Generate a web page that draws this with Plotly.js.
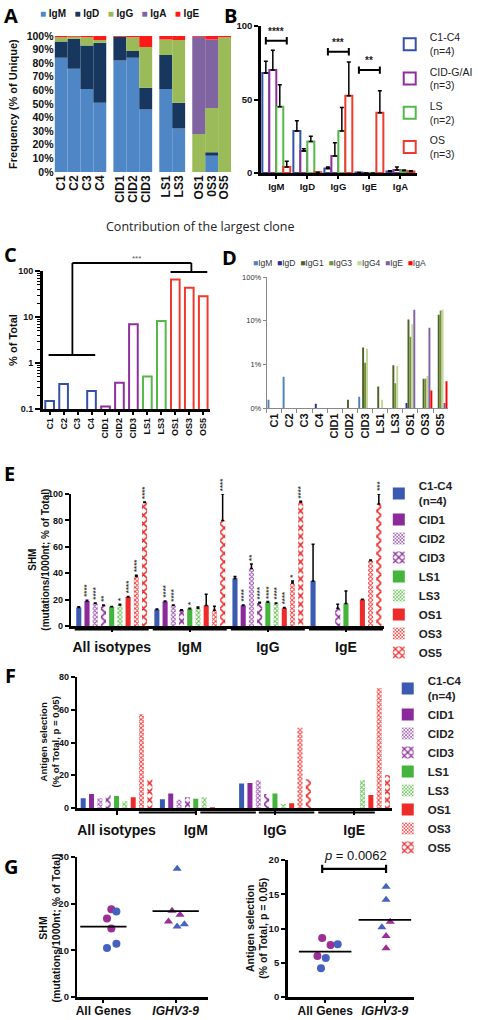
<!DOCTYPE html>
<html><head><meta charset="utf-8">
<script src="https://cdn.plot.ly/plotly-3.0.1.min.js"></script>
<style>html,body{margin:0;padding:0;background:#fff;}#chart{width:478px;height:1020px;}</style>
</head><body><div id="chart"></div>
<script>
// ================= DATA =================
// Panel A – isotype frequency (% of unique)
const samplesA = ['C1','C2','C3','C4','CID1','CID2','CID3','LS1','LS3','OS1','0S3','OS5'];
const sampleGroupSizes = [4,3,2,3];
const isotypesA = ['IgM','IgD','IgG','IgA','IgE'];
const A_IgM = [84, 76, 61, 51, 82, 84, 46, 61, 32, 0, 12, 0];
const A_IgD = [12, 22, 32, 44, 17.5, 5, 16, 25, 19, 0, 2.5, 0];
const A_IgG = [3, 1.5, 6, 2, 0, 10, 30, 11.5, 46, 28, 32.5, 99];
const A_IgA = [0, 0, 0, 0, 0, 0, 0, 0, 0, 71.5, 50.5, 0];
const A_IgE = [1, 0.5, 1, 3, 0.5, 1, 8, 2.5, 3, 0.5, 2.5, 1];

// Panel B – mean isotype frequency by cohort
const B_isotypes = ['IgM','IgD','IgG','IgE','IgA'];
const B_groups = ['C1-C4<br>(n=4)','CID-G/AI<br>(n=3)','LS<br>(n=2)','OS<br>(n=3)'];
const B_C   = [68, 28.5, 3, 0.3, 1];
const B_CID = [70, 15, 11.5, 0, 2];
const B_LS  = [45, 21.5, 28.5, 0, 1.5];
const B_OS  = [4, 0.5, 52.5, 41, 1];
const B_C_err   = [8, 7, 1, 0, 0.5];
const B_CID_err = [13.5, 1.5, 9, 0, 2];
const B_LS_err  = [15, 3.5, 16, 0, 0.5];
const B_OS_err  = [4, 0, 23, 15, 0.5];
const B_sig = [{iso:'IgM', y:90, text:'****'}, {iso:'IgG', y:82.5, text:'***'}, {iso:'IgE', y:70, text:'**'}];

// Panel C – contribution of largest clone (% of total)
const samples = ['C1','C2','C3','C4','CID1','CID2','CID3','LS1','LS3','OS1','OS3','OS5'];
const C_vals = [0.15, 0.35, null, 0.245, 0.114, 0.37, 6.95, 0.51, 8.2, 65, 43, 28.4];

// Panel D – largest clone by isotype
const D_isotypes = ['IgM','IgD','IgG1','IgG3','IgG4','IgE','IgA'];
const D_IgM  = [0.155, 0.52, null, null, null, null, 0.18, null, null, null, null, null];
const D_IgD  = [null, null, null, 0.125, null, null, null, null, null, 0.13, null, null];
const D_IgG1 = [null, null, null, null, null, 0.155, 2.43, 0.31, 0.95, 10.7, 0.47, 13.7];
const D_IgG3 = [null, null, null, null, null, null, 1.09, null, 0.37, 4.3, 0.47, 17];
const D_IgG4 = [null, null, null, null, null, null, 2.27, 0.155, 0.92, 8.3, 0.54, 17.8];
const D_IgE  = [null, null, null, null, null, null, null, null, null, 17.8, 6.9, 0.13];
const D_IgA  = [null, null, null, null, null, null, null, null, null, null, 0.25, 0.41];

// Panels E/F – groups and series
const EF_groups = ['All isotypes','IgM','IgG','IgE'];
const EF_series = ['C1-C4<br>(n=4)','CID1','CID2','CID3','LS1','LS3','OS1','OS3','OS5'];
// E – SHM (mutations/1000nt)
const E_C   = [14, 12.5, 36, 34];     const E_C_err   = [0.5, 0.3, 1.5, 28];
const E_CID1= [19, 18.5, 15.5, null]; const E_CID1_err= [0.5, 0.5, 0.5, 0];
const E_CID2= [17, 15.5, 43.5, null]; const E_CID2_err= [0.5, 0.5, 3.5, 0];
const E_CID3= [15.5, 12, 17.5, 13.5]; const E_CID3_err= [0.5, 0.3, 0.5, 3];
const E_LS1 = [14.5, 13, 18, 17];     const E_LS1_err = [0.3, 0.5, 0.5, 9.5];
const E_LS3 = [16, 13.5, 17, null];   const E_LS3_err = [0.5, 0.8, 0.5, 0];
const E_OS1 = [22, 15.5, 13.5, 20];   const E_OS1_err = [0.3, 8.5, 0.5, 0.3];
const E_OS3 = [37.5, 12, 32.5, 49.5]; const E_OS3_err = [1, 3, 1.5, 0.5];
const E_OS5 = [93.5, 80, 94, 92.5];   const E_OS5_err = [0.5, 20, 0.5, 7.5];
const E_stars = [
  ['', '', '', ''],
  ['****', '****', '****', ''],
  ['****', '****', '**', ''],
  ['**', '', '****', ''],
  ['', '*', '****', ''],
  ['*', '', '****', ''],
  ['****', '', '****', ''],
  ['****', '', '*', ''],
  ['****', '****', '****', '***']
];
// F – antigen selection (% of total, p = 0.05)
const F_C   = [6, 5.3, 15, null];
const F_CID1= [8.6, 8.8, 15.3, null];
const F_CID2= [6, 5.1, 17, null];
const F_CID3= [7.8, 6.5, 8.6, null];
const F_LS1 = [7.4, 5.7, 8.8, null];
const F_LS3 = [4.1, 6.5, 2.5, 17];
const F_OS1 = [6.5, 0.5, 2.9, 8];
const F_OS3 = [57.3, null, 49, 73.2];
const F_OS5 = [17.6, null, 17.6, 20];

// Panel G
const G_cats = ['All Genes','<i>IGHV3-9</i>'];
const G_SHM_all   = [18.8, 18.3, 16.8, 14.7, 11.4, 10.5];
const G_SHM_all_c = ['P','B','P','P','B','B'];
const G_SHM_ighv  = [27.5, 18.5, 17.6, 16.2, 15.6, 15.1];
const G_SHM_ighv_c= ['B','P','P','P','B','B'];
const G_AS_all    = [8.6, 7.6, 7.7, 6.0, 5.7, 4.2];
const G_AS_all_c  = ['P','P','B','P','B','B'];
const G_AS_ighv   = [16.1, 14.2, 10.2, 11.0, 8.9, 7.1];
const G_AS_ighv_c = ['B','B','B','P','P','P'];
const G_pText = '<i>p</i> = 0.0062';

// ================= STYLE / LAYOUT HELPERS =================
const W = 478, H = 1020;
const fx = p => p / W;
const fy = p => 1 - p / H;
const FONT = 'Liberation Sans, Arial, sans-serif';
const bold = (size, color) => ({family: FONT, size: size, weight: 'bold', color: color || '#111'});

const A_colors = {IgM:'#4f86c6', IgD:'#17375e', IgG:'#9bbb59', IgA:'#8064a2', IgE:'#ff1a1a'};
const B_colors = ['#3550a8', '#8e2f9e', '#55b848', '#f03a2e'];
const D_colors = ['#4f81bd', '#2b2f8f', '#4f6228', '#76923c', '#c3d69b', '#8064a2', '#ff0000'];
const EF_colors = ['#3b5bb2', '#8b2a9b', '#9a4fb0', '#8b2a9b', '#45b43c', '#62c050', '#ee2b2b', '#ee3a3a', '#ee2b2b'];
const EF_patterns = [null, null, {shape:'x', size:3, solidity:0.5}, {shape:'x', size:6, solidity:0.45},
                     null, {shape:'x', size:3, solidity:0.5}, null, {shape:'x', size:3, solidity:0.5}, {shape:'x', size:6, solidity:0.45}];
const G_col = {P:'#9b2f95', B:'#4562c0'};

function groupedPositions(sizes, gap) {
  const out = []; let p = 0;
  sizes.forEach(n => { for (let i = 0; i < n; i++) out.push(p++); p += gap; });
  return out;
}
function groupColors(sizes, cols) {
  const out = []; sizes.forEach((n, g) => { for (let i = 0; i < n; i++) out.push(cols[g]); }); return out;
}
function vTitle(text, xpx, ypx, font) {
  annotations.push({xref:'paper', yref:'paper', x:fx(xpx), y:fy(ypx), xanchor:'center', yanchor:'middle',
    textangle:-90, showarrow:false, text:text, font:font});
}

const traces = [];
const annotations = [];
const shapes = [];

// ================= PANEL A =================
const pA = groupedPositions(sampleGroupSizes, 0.55);
const A_data = {IgM:A_IgM, IgD:A_IgD, IgG:A_IgG, IgA:A_IgA, IgE:A_IgE};
const cum = samplesA.map(() => 0);
isotypesA.forEach(iso => {
  const vals = A_data[iso];
  traces.push({type:'bar', x:pA, y:vals, base:cum.slice(), width:1, offsetgroup:'A',
    marker:{color:A_colors[iso], line:{width:0}}, xaxis:'x', yaxis:'y', showlegend:false, hoverinfo:'skip'});
  vals.forEach((v, i) => cum[i] += v);
});
annotations.push({xref:'paper', yref:'paper', x:fx(38), y:fy(14), xanchor:'left', yanchor:'middle', showarrow:false,
  font:bold(10, '#111'),
  text: isotypesA.map(k => `<span style="color:${A_colors[k]}">■</span>\u00a0${k}`).join('\u00a0\u00a0 ')});
vTitle('Frequency (% of Unique)', 13, 104, bold(11));

// ================= PANEL B =================
const B_vals = [B_C, B_CID, B_LS, B_OS];
const B_errs = [B_C_err, B_CID_err, B_LS_err, B_OS_err];
B_groups.forEach((g, i) => {
  traces.push({type:'bar', x:B_isotypes, y:B_vals[i], name:g, xaxis:'x2', yaxis:'y2',
    marker:{color:'white', line:{color:B_colors[i], width:2}},
    error_y:{type:'data', symmetric:false, array:B_errs[i], arrayminus:B_isotypes.map(() => 0), color:'#000', thickness:1.5, width:2},
    legend:'legend', legendgroup:'b' + i, showlegend:true, hoverinfo:'skip'});
});
const bHalf = 1.5 * (1 - 0.1) / 4;
B_sig.forEach(s => {
  const c = B_isotypes.indexOf(s.iso);
  shapes.push({type:'line', xref:'x2', yref:'y2', x0:c - bHalf, x1:c + bHalf, y0:s.y, y1:s.y, line:{color:'#000', width:2}});
  shapes.push({type:'line', xref:'x2', yref:'y2', x0:c - bHalf, x1:c - bHalf, y0:s.y - 2.5, y1:s.y + 2.5, line:{color:'#000', width:2}});
  shapes.push({type:'line', xref:'x2', yref:'y2', x0:c + bHalf, x1:c + bHalf, y0:s.y - 2.5, y1:s.y + 2.5, line:{color:'#000', width:2}});
  annotations.push({xref:'x2', yref:'y2', x:c, y:s.y + 1.5, yanchor:'bottom', showarrow:false, text:s.text, font:bold(10, '#222')});
});

// ================= HEADER =================
annotations.push({xref:'paper', yref:'paper', x:fx(202), y:fy(226), xanchor:'center', yanchor:'middle', showarrow:false,
  text:'Contribution of the largest clone', font:{family:'Open Sans, sans-serif', size:12.5, color:'#222'}});

// ================= PANEL C =================
traces.push({type:'bar', x:samples, y:C_vals, width:0.62, xaxis:'x3', yaxis:'y3',
  marker:{color:'white', line:{color:groupColors(sampleGroupSizes, B_colors), width:2}}, showlegend:false, hoverinfo:'skip'});
vTitle('% of Total', 13, 340, bold(11));
[[49,355,96,355],[73,355,73,263],[73,263,193,263],[193,263,193,272],[172,272,209,272]].forEach(l => {
  shapes.push({type:'line', xref:'paper', yref:'paper', x0:fx(l[0]), y0:fy(l[1]), x1:fx(l[2]), y1:fy(l[3]), line:{color:'#000', width:1.8}});
});
annotations.push({xref:'paper', yref:'paper', x:fx(138), y:fy(258), xanchor:'center', yanchor:'middle', showarrow:false,
  text:'***', font:{family:FONT, size:8, color:'#555'}});

// ================= PANEL D =================
const D_data = [D_IgM, D_IgD, D_IgG1, D_IgG3, D_IgG4, D_IgE, D_IgA];
D_isotypes.forEach((iso, i) => {
  traces.push({type:'bar', x:samples, y:D_data[i], name:iso, xaxis:'x4', yaxis:'y4',
    marker:{color:D_colors[i], line:{width:0}}, showlegend:false, hoverinfo:'skip'});
});
annotations.push({xref:'paper', yref:'paper', x:fx(253), y:fy(263), xanchor:'left', yanchor:'middle', showarrow:false,
  font:{family:FONT, size:8.5, color:'#333'},
  text: D_isotypes.map((k, i) => `<span style="color:${D_colors[i]}">■</span>${k}`).join('\u00a0\u00a0')});

// ================= PANELS E & F =================
const stride = 9.5;
const E_vals = [E_C, E_CID1, E_CID2, E_CID3, E_LS1, E_LS3, E_OS1, E_OS3, E_OS5];
const E_errs = [E_C_err, E_CID1_err, E_CID2_err, E_CID3_err, E_LS1_err, E_LS3_err, E_OS1_err, E_OS3_err, E_OS5_err];
const F_vals = [F_C, F_CID1, F_CID2, F_CID3, F_LS1, F_LS3, F_OS1, F_OS3, F_OS5];
function efMarker(i) {
  const m = {color:EF_colors[i], line:{width:0}};
  if (EF_patterns[i]) m.pattern = Object.assign({fillmode:'replace', fgcolor:EF_colors[i], bgcolor:'white'}, EF_patterns[i]);
  return m;
}
EF_series.forEach((s, i) => {
  const xs = EF_groups.map((g, gi) => gi * stride + i);
  traces.push({type:'bar', x:xs, y:E_vals[i], width:0.62, offsetgroup:'E', name:s, xaxis:'x5', yaxis:'y5',
    marker:efMarker(i),
    error_y:{type:'data', symmetric:false, array:E_errs[i], arrayminus:xs.map(() => 0), color:'#000', thickness:1.5, width:1.5},
    legend:'legend2', showlegend:true, hoverinfo:'skip'});
  traces.push({type:'bar', x:xs, y:F_vals[i], width:0.6, offsetgroup:'F', name:s, xaxis:'x6', yaxis:'y6',
    marker:efMarker(i), legend:'legend3', showlegend:true, hoverinfo:'skip'});
  E_stars[i].forEach((st, gi) => {
    if (!st) return;
    annotations.push({xref:'x5', yref:'y5', x:gi * stride + i, y:E_vals[i][gi] + E_errs[i][gi], xanchor:'center', yanchor:'bottom', yshift:1,
      textangle:-90, showarrow:false, text:st, font:bold(8, '#333')});
  });
});
const groupCenters = EF_groups.map((g, gi) => gi * stride + 4);
const E_range = [-0.9, 37.1], E_dom = [72, 387];
const xE = v => fx(E_dom[0] + (v - E_range[0]) / (E_range[1] - E_range[0]) * (E_dom[1] - E_dom[0]));
EF_groups.forEach((g, gi) => {
  shapes.push({type:'line', xref:'paper', yref:'paper', x0:xE(gi * stride - 0.5), x1:xE(gi * stride + 8.5), y0:fy(629.5), y1:fy(629.5), line:{color:'#000', width:2.2}});
});
[[140,198],[202,258],[261,317],[321,378]].forEach(s => {
  shapes.push({type:'line', xref:'paper', yref:'paper', x0:fx(s[0]), x1:fx(s[1]), y0:fy(812.5), y1:fy(812.5), line:{color:'#000', width:2.2}});
});
vTitle('SHM<br>(mutations/1000nt; % of Total)', 39, 560, bold(10));
vTitle('Antigen selection<br>(% of Total, p = 0.05)', 49, 742, bold(9.5));

// ================= PANEL G =================
const mean = a => a.reduce((s, v) => s + v, 0) / a.length;
const G_jit_L0 = [0.11, 0.18, 0.05, 0.11, 0.18, 0.05];
const G_jit_L1 = [0.02, -0.05, 0.06, -0.1, 0.12, 0.02];
const G_jit_R0 = [-0.05, 0.09, 0.21, -0.13, 0.01, -0.07];
const G_jit_R1 = [0.02, 0.02, -0.05, 0.09, 0.02, 0.02];
function gPts(vals, cols, cat, jit, sym, xa, ya) {
  traces.push({type:'scatter', mode:'markers', x:vals.map((v, i) => cat + jit[i]), y:vals, xaxis:xa, yaxis:ya,
    marker:{symbol:sym, size:8, color:cols.map(c => G_col[c])}, showlegend:false, hoverinfo:'skip'});
}
function gMean(vals, cat, half, xa, ya) {
  const m = mean(vals);
  traces.push({type:'scatter', mode:'lines', x:[cat - half, cat + half], y:[m, m], xaxis:xa, yaxis:ya,
    line:{color:'#000', width:1.8}, showlegend:false, hoverinfo:'skip'});
}
gPts(G_SHM_all, G_SHM_all_c, 0, G_jit_L0, 'circle', 'x7', 'y7');
gPts(G_SHM_ighv, G_SHM_ighv_c, 1, G_jit_L1, 'triangle-up', 'x7', 'y7');
gMean(G_SHM_all, 0, 0.32, 'x7', 'y7');
gMean(G_SHM_ighv, 1, 0.32, 'x7', 'y7');
gPts(G_AS_all, G_AS_all_c, 0, G_jit_R0, 'circle', 'x8', 'y8');
gPts(G_AS_ighv, G_AS_ighv_c, 1, G_jit_R1, 'triangle-up', 'x8', 'y8');
gMean(G_AS_all, 0, 0.44, 'x8', 'y8');
gMean(G_AS_ighv, 1, 0.44, 'x8', 'y8');
shapes.push({type:'line', xref:'x8', yref:'y8', x0:-0.05, x1:1.02, y0:18.7, y1:18.7, line:{color:'#000', width:2.2}});
shapes.push({type:'line', xref:'x8', yref:'y8', x0:-0.05, x1:-0.05, y0:18.1, y1:19.3, line:{color:'#000', width:2.2}});
shapes.push({type:'line', xref:'x8', yref:'y8', x0:1.02, x1:1.02, y0:18.1, y1:19.3, line:{color:'#000', width:2.2}});
annotations.push({xref:'x8', yref:'y8', x:0.5, y:19.3, xanchor:'center', yanchor:'bottom', showarrow:false, text:G_pText,
  font:{family:FONT, size:13, color:'#111'}});
vTitle('SHM<br>(mutations/1000nt; % of Total)', 50, 928, bold(10.5));
vTitle('Antigen selection<br>(% of Total, p = 0.05)', 259, 928, bold(10.5));

// ================= PANEL LETTERS =================
[['A',2,0],['B',224,0],['C',2,239],['D',222,242],['E',2,458],['F',3,660],['G',2,851]].forEach(l => {
  annotations.push({xref:'paper', yref:'paper', x:fx(l[1]), y:fy(l[2]), xanchor:'left', yanchor:'top', showarrow:false,
    text:l[0], font:{family:'Open Sans, sans-serif', size:20, weight:'bold', color:'#000'}});
});

// ================= AXES =================
const blackAxis = (extra) => Object.assign({showline:true, linecolor:'#000', linewidth:2.5, ticks:'outside', ticklen:4,
  tickwidth:2, tickcolor:'#000', showgrid:false, zeroline:false, fixedrange:true}, extra);

const layout = {
  width:W, height:H, margin:{l:0, r:0, t:0, b:0}, paper_bgcolor:'#fff', plot_bgcolor:'rgba(0,0,0,0)',
  barmode:'group', bargap:0.1, bargroupgap:0, showlegend:true, font:{family:FONT},
  // A
  xaxis:{domain:[fx(55), fx(233)], anchor:'y', range:[-0.5, pA[pA.length - 1] + 0.5], tickvals:pA, ticktext:samplesA,
    tickangle:-90, tickfont:bold(12), showline:false, ticks:'', showgrid:false, zeroline:false},
  yaxis:{domain:[fy(172), fy(36)], anchor:'x', range:[0, 100], dtick:10, ticksuffix:'%', tickfont:bold(10.5),
    showline:false, ticks:'', showgrid:false, zeroline:false},
  // B
  xaxis2:blackAxis({domain:[fx(263), fx(421)], anchor:'y2', type:'category', range:[-0.5, 4.55], tickfont:bold(9.5), ticklen:3}),
  yaxis2:blackAxis({domain:[fy(173), fy(26)], anchor:'x2', range:[0, 100], tickvals:[0, 50, 100], tickfont:bold(9.5)}),
  // C
  xaxis3:blackAxis({domain:[fx(43), fx(212)], anchor:'y3', type:'category', tickangle:-90, tickfont:bold(9), ticklen:3}),
  yaxis3:blackAxis({domain:[fy(409), fy(271)], anchor:'x3', type:'log', range:[-1, 2], tickvals:[0.1, 1, 10, 100],
    ticktext:['0.1', '1', '10', '100'], tickfont:bold(9), ticklen:5,
    minor:{dtick:'D1', ticks:'outside', ticklen:3, tickwidth:1, tickcolor:'#000', showgrid:false}}),
  // D
  xaxis4:{domain:[fx(269), fx(452)], anchor:'y4', type:'category', tickson:'boundaries', ticks:'outside', ticklen:4,
    tickcolor:'#888', showline:true, linecolor:'#888', linewidth:1, tickangle:-90, tickfont:bold(11), showgrid:false, zeroline:false},
  yaxis4:{domain:[fy(408), fy(277)], anchor:'x4', type:'log', range:[-1, 2], tickvals:[0.1, 1, 10, 100],
    ticktext:['0%', '1%', '10%', '100%'], showline:true, linecolor:'#888', linewidth:1, ticks:'outside', ticklen:3,
    tickcolor:'#888', tickfont:{family:FONT, size:7.5, color:'#333'}, showgrid:false, zeroline:false},
  // E
  xaxis5:blackAxis({domain:[fx(E_dom[0]), fx(E_dom[1])], anchor:'y5', range:E_range, tickvals:groupCenters, ticktext:EF_groups,
    tickfont:bold(14), ticklen:3, ticklabelstandoff:4}),
  yaxis5:blackAxis({domain:[fy(626), fy(494)], anchor:'x5', range:[0, 100], dtick:20, tickfont:bold(9)}),
  // F
  xaxis6:blackAxis({domain:[fx(78), fx(395)], anchor:'y6', range:[-0.7, 37.0], tickvals:groupCenters, ticktext:EF_groups,
    tickfont:bold(14), ticklen:4, ticklabelstandoff:4}),
  yaxis6:blackAxis({domain:[fy(808), fy(677)], anchor:'x6', range:[0, 80], dtick:20, tickfont:bold(9)}),
  // G left
  xaxis7:blackAxis({domain:[fx(78), fx(210)], anchor:'y7', range:[-0.36, 1.45], tickvals:[0, 1], ticktext:G_cats,
    tickfont:bold(12), ticklen:3, ticklabelstandoff:-2}),
  yaxis7:blackAxis({domain:[fy(997), fy(857)], anchor:'x7', range:[0, 30], dtick:10, tickfont:bold(9.5)}),
  // G right
  xaxis8:blackAxis({domain:[fx(290), fx(417)], anchor:'y8', range:[-0.63, 1.48], tickvals:[0, 1], ticktext:G_cats,
    tickfont:bold(12), ticklen:3, ticklabelstandoff:-2}),
  yaxis8:blackAxis({domain:[fy(997), fy(860)], anchor:'x8', range:[0, 20], dtick:5, tickfont:bold(9.5)}),
  // legends
  legend:{x:fx(393), y:fy(24), xanchor:'left', yanchor:'top', font:{family:FONT, size:10.5, color:'#222'},
    traceorder:'grouped', tracegroupgap:4, bgcolor:'rgba(0,0,0,0)', itemclick:false, itemdoubleclick:false},
  legend2:{x:fx(382), y:fy(472), xanchor:'left', yanchor:'top', font:bold(11.5, '#222'),
    bgcolor:'rgba(0,0,0,0)', itemclick:false, itemdoubleclick:false},
  legend3:{x:fx(391), y:fy(667), xanchor:'left', yanchor:'top', font:bold(11.5, '#222'),
    bgcolor:'rgba(0,0,0,0)', itemclick:false, itemdoubleclick:false},
  annotations:annotations, shapes:shapes
};

Plotly.newPlot('chart', traces, layout, {displayModeBar:false, staticPlot:true});
</script></body></html>
